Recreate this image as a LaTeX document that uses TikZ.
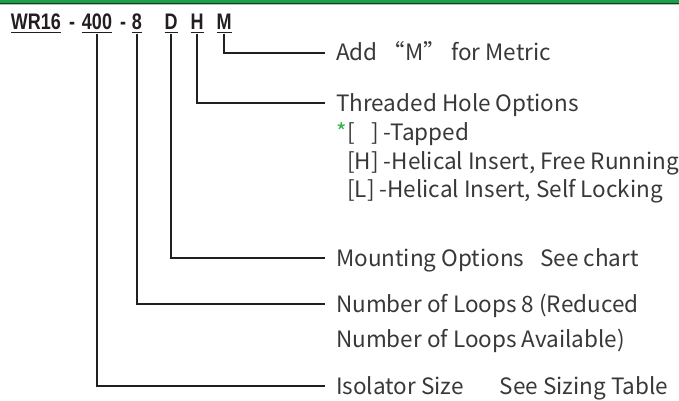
\documentclass[tikz,border=0pt]{standalone}
\usepackage{fontspec}
\usepackage{xcolor}
\usetikzlibrary{positioning}
\newfontfamily\labelfont{Noto Sans CJK SC}
\newfontfamily\codefont{Liberation Sans}[FakeStretch=0.8]
\definecolor{barbright}{HTML}{1E9E48}
\definecolor{bardark}{HTML}{123D22}
\definecolor{barshade}{HTML}{B9BFBB}
\definecolor{inkblack}{HTML}{231F20}
\definecolor{textgray}{HTML}{383838}
\definecolor{stargreen}{HTML}{2DB34A}
\newcommand{\codeul}[1]{\setbox0\hbox{#1}\rlap{\rule[-3.8pt]{\wd0}{1.8pt}}\box0}
\tikzset{
  codechar/.style={
    font={\codefont\bfseries\fontsize{22.5}{26}\selectfont},
    text=inkblack,
    inner sep=0pt,
    anchor=base
  },
  leader/.style={
    draw=inkblack,
    line width=2pt
  },
  legend/.style={
    font={\labelfont\fontsize{22.5}{27}\selectfont},
    text=textgray,
    anchor=west,
    inner xsep=11pt,
    inner ysep=0pt,
    text height=16.5pt,
    text depth=0pt
  }
}

\begin{document}
\begin{tikzpicture}[x=1pt, y=-1pt]
  \useasboundingbox (0,0) rectangle (679,400);

  % ==================== TOP BAR ====================
  \fill[barbright] (0,0) rectangle (679,2.6);
  \fill[bardark] (0,2.6) rectangle (679,3.6);
  \fill[barshade] (0,3.6) rectangle (679,4.4);

  % ==================== PART NUMBER ====================
  \node (wr) [codechar] at (36,29.5) {\codeul{WR16}};
  \node (dashA) [codechar] at (72,29.5) {-};
  \node (n400) [codechar] at (97,29.5) {\codeul{400}};
  \node (dashB) [codechar] at (123,29.5) {-};
  \node (n8) [codechar] at (137,29.5) {\codeul{8}};
  \node (mD) [codechar] at (171,29.5) {\codeul{D}};
  \node (hH) [codechar] at (197,29.5) {\codeul{H}};
  \node (mM) [codechar] at (224,29.5) {\codeul{M}};

  % ==================== LEGEND ====================
  \node (metric) [legend] at (325,52.5) {Add “M” for Metric};
  \node (thread) [legend] at (325,103) {Threaded Hole Options};
  \node (tap) [legend, below=12pt of thread.south west, anchor=north west, xshift=11pt] {\llap{\textcolor{stargreen}{*}}[\phantom{H}] -Tapped};
  \node (helH) [legend, below=12pt of tap.south west, anchor=north west] {[H] -Helical Insert, Free Running};
  \node (helL) [legend, below=12pt of helH.south west, anchor=north west] {[L] -Helical Insert, Self Locking};
  \node (mount) [legend] at (325,258) {Mounting Options\hspace{0.7em}See chart};
  \node (loops) [legend] at (325,304) {Number of Loops 8 (Reduced};
  \node (loopsB) [legend, below=18pt of loops.south west, anchor=north west] {Number of Loops Available)};
  \node (size) [legend] at (325,386) {Isolator Size\hspace{1.6em}See Sizing Table};

  % Leaders
  \draw [leader] (mM.south) |- (metric.west);
  \draw [leader] (hH.south) |- (thread.west);
  \draw [leader] (mD.south) |- (mount.west);
  \draw [leader] (n8.south) |- (loops.west);
  \draw [leader] (n400.south) |- (size.west);

\end{tikzpicture}
\end{document}
